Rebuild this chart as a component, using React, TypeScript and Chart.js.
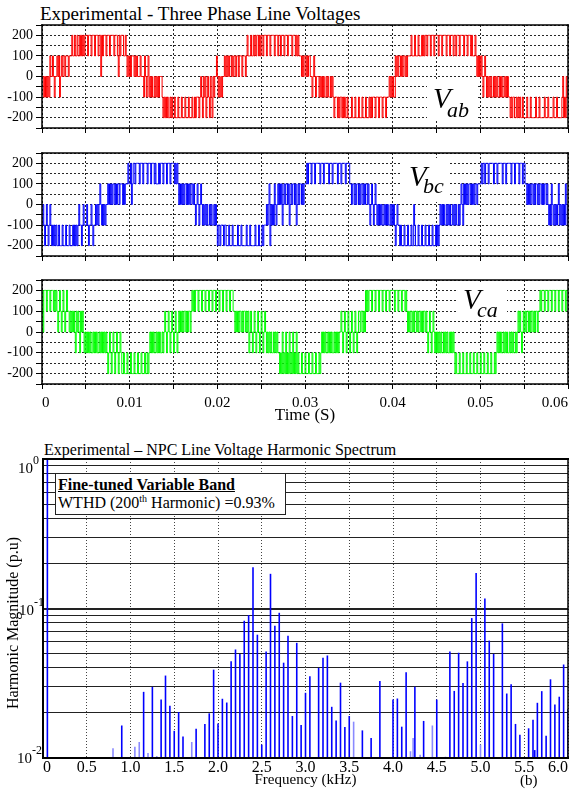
import React, { useEffect, useRef } from 'react';
import { Chart, registerables } from 'chart.js';

Chart.register(...registerables);

const SERIF = '"Liberation Serif", "Times New Roman", serif';
Chart.defaults.font.family = SERIF;
Chart.defaults.color = '#000';

// ---------------------------------------------------------------------------
// Line-voltage records. Each string covers 5 ms; every character is the
// converter level held for one sample: 0=-200, 1=-100, 2=0, 3=100, 4=200 V.
// ---------------------------------------------------------------------------
const BLOCK_SECONDS = 0.005;
const LEVEL_VOLTS = [-200, -100, 0, 100, 200];

const VAB_LEVELS = [
  '22121212132232122323123233233323334334334334343434',
  '44344434443444344243444344434444344432434443343232',
  '32333232322232221321231212112121212221010101001010',
  '01000100010001000100010010111012102120121021021223',
  '21212122323232332323323323332333234333433434344343',
  '44344434443444434443443444344434444344434343332323',
  '32323322123212221212121121211212101110101101010010',
  '00010001000100010001000101011101110111011101112121',
  '21132323323233232333343334333433343434434443444344',
  '44344434444344434443443444344443444344434333432323',
  '23212321212121121212112121121212110101100101010010',
  '00010001000001000100000100010000010001000001201021',
];

const VBC_LEVELS = [
  '12101210121010101001000100010001000101010121101211',
  '12101121011212123212121223232323323233233323233343',
  '34234434444344434444344434443433343444344434443444',
  '43434323232323323232332321232123212121211212112121',
  '01101110110001000100000100010000010001000001000100',
  '01011121230212132123232312323323123233231232332323',
  '33434443444344444344434444434443444443444344443444',
  '43323323233232332323323212321232121212112121211212',
  '12101211010001000100010021000100010001000100010001',
  '01012121211212121121212112123213232323323232332333',
  '34344344434444434443444443444344444344434444344434',
  '43323232332323323233232332321213212121231212121321',
];

const VCA_LEVELS = [
  '42444344434443434323432343234332323232132321323212',
  '12121211212121121212121210121012101210121001000100',
  '01000100010001000100101212121121212112123212321232',
  '12321232323233232332343434443444344434443444344434',
  '44344434443444344433232323323233232312321232123212',
  '32123212121211212121101020102010201020102010001000',
  '10001000100010001012121211212121121212122321232123',
  '21232123212332332324343444344434443444344434443444',
  '44344434443444343232332323323233232332321232123212',
  '12121211212121121212101000100010001000100010001000',
  '10001000100010001012121211212121121212112123232123',
  '23233232332323323343444344434443444344434443444344',
];

const VOLT_TICKS = [-250, -200, -150, -100, -50, 0, 50, 100, 150, 200, 250];
const VOLT_TICK_LABELS = ['', '-200', '', '-100', '', '0', '', '100', '', '200', ''];
const TIME_TICKS = [0, 0.005, 0.01, 0.015, 0.02, 0.025, 0.03, 0.035, 0.04, 0.045, 0.05, 0.055, 0.06];
const TIME_TICK_LABELS = ['0', '', '0.01', '', '0.02', '', '0.03', '', '0.04', '', '0.05', '', '0.06'];

// ---------------------------------------------------------------------------
// Harmonic spectrum (frequency in kHz, magnitude in p.u.)
// ---------------------------------------------------------------------------
const SPEC_FREQ = [
  0.05, 0.9, 1.15, 1.25, 1.35, 1.4, 1.45, 1.5, 1.55, 1.6, 1.75, 1.85, 1.9, 1.95,
  2.0, 2.05, 2.1, 2.15, 2.2, 2.25, 2.3, 2.35, 2.4, 2.45, 2.5, 2.55, 2.6, 2.65,
  2.7, 2.75, 2.8, 2.85, 2.9, 2.95, 3.0, 3.05, 3.15, 3.2, 3.25, 3.3, 3.35, 3.4,
  3.45, 3.5, 3.65, 3.75, 3.85, 4.0, 4.05, 4.1, 4.15, 4.25, 4.35, 4.5, 4.65, 4.7,
  4.75, 4.8, 4.85, 4.9, 4.95, 5.05, 5.1, 5.15, 5.25, 5.3, 5.35, 5.4, 5.45, 5.55,
  5.6, 5.62, 5.65, 5.7, 5.75, 5.8, 5.85, 5.9, 5.95, 6.0,
];
const SPEC_MAG = [
  1.0, 0.0165, 0.0277, 0.0299, 0.0246, 0.0356, 0.0224, 0.0152, 0.0203, 0.0139, 0.0157, 0.0169, 0.0199, 0.039,
  0.017, 0.0249, 0.0235, 0.0443, 0.0532, 0.0497, 0.0828, 0.0903, 0.189, 0.0668, 0.0123, 0.0515, 0.1706, 0.0767,
  0.0936, 0.0434, 0.0658, 0.0191, 0.0589, 0.0166, 0.0273, 0.0352, 0.0401, 0.0468, 0.0485, 0.022, 0.0178, 0.0319,
  0.0161, 0.0191, 0.0153, 0.0136, 0.0327, 0.0246, 0.025, 0.0162, 0.0374, 0.03, 0.0177, 0.0246, 0.0515, 0.0281,
  0.0506, 0.0318, 0.0443, 0.0863, 0.173, 0.1165, 0.061, 0.0497, 0.0795, 0.027, 0.0311, 0.0169, 0.0143, 0.0158,
  0.018, 0.0113, 0.0234, 0.028, 0.0141, 0.0336, 0.0228, 0.0257, 0.0422, 0.0213,
];
const FAINT_FREQ = [0.8, 1.05, 1.1, 1.2, 1.3, 1.7, 3.55, 4.2, 4.23, 4.31, 4.45, 4.6, 5.0];
const FAINT_MAG = [0.0116, 0.0119, 0.0128, 0.0108, 0.0103, 0.0128, 0.0175, 0.0111, 0.0136, 0.0105, 0.0165, 0.0102, 0.0123];

const FREQ_TICKS = [0, 0.5, 1, 1.5, 2, 2.5, 3, 3.5, 4, 4.5, 5, 5.5, 6];
const FREQ_TICK_LABELS = ['0', '0.5', '1.0', '1.5', '2.0', '2.5', '3.0', '3.5', '4.0', '4.5', '5.0', '5.5', '6.0'];
const MAG_TICKS = [
  0.01, 0.02, 0.03, 0.04, 0.05, 0.06, 0.07, 0.08, 0.09,
  0.1, 0.2, 0.3, 0.4, 0.5, 0.6, 0.7, 0.8, 0.9, 1,
];
const MAG_DECADES = [0.01, 0.1, 1];

// ---------------------------------------------------------------------------

function levelsToSteps(blocks: string[]) {
  const pts: { x: number; y: number }[] = [];
  blocks.forEach((s, k) => {
    for (let j = 0; j < s.length; j++) {
      pts.push({ x: k * BLOCK_SECONDS + (j * BLOCK_SECONDS) / s.length, y: LEVEL_VOLTS[Number(s[j])] });
    }
  });
  pts.push({ x: blocks.length * BLOCK_SECONDS, y: pts[pts.length - 1].y });
  return pts;
}

// draws a closed box round the plotting area
const framePlugin = {
  id: 'frame',
  afterDraw(chart: any, _args: any, opts: any) {
    const { ctx, chartArea: a } = chart;
    const [wt, wr, wb, wl] = opts.widths || [1.5, 1.5, 1.5, 1.5];
    const seg = (w: number, x1: number, y1: number, x2: number, y2: number) => {
      ctx.lineWidth = w;
      ctx.beginPath();
      ctx.moveTo(x1, y1);
      ctx.lineTo(x2, y2);
      ctx.stroke();
    };
    ctx.save();
    ctx.strokeStyle = '#000';
    ctx.lineCap = 'square';
    seg(wt, a.left, a.top, a.right, a.top);
    seg(wr, a.right, a.top, a.right, a.bottom);
    seg(wb, a.left, a.bottom, a.right, a.bottom);
    seg(wl, a.left, a.top, a.left, a.bottom);
    ctx.restore();
  },
};

function useChart(make: () => any) {
  const ref = useRef<HTMLCanvasElement>(null);
  useEffect(() => {
    const chart = new Chart(ref.current as HTMLCanvasElement, make());
    return () => chart.destroy();
  }, []);
  return ref;
}

type WaveProps = {
  top: number;
  height: number;
  padTop: number;
  axisHeight: number;
  color: string;
  blocks: string[];
  labels?: boolean;
};

function WavePanel({ top, height, padTop, axisHeight, color, blocks, labels = false }: WaveProps) {
  const ref = useChart(() => ({
    type: 'line',
    data: {
      datasets: [
        {
          data: levelsToSteps(blocks),
          borderColor: color,
          borderWidth: 1,
          pointRadius: 0,
          stepped: true,
          fill: false,
        },
      ],
    },
    options: {
      animation: false,
      responsive: false,
      events: [],
      layout: { padding: { top: padTop, right: 5, left: 0, bottom: 0 } },
      plugins: {
        legend: { display: false },
        tooltip: { enabled: false },
        frame: { widths: [1.5, 1.5, 1.5, 1.5] },
      },
      scales: {
        x: {
          type: 'linear',
          min: 0,
          max: 0.06,
          afterBuildTicks: (s: any) => {
            s.ticks = TIME_TICKS.map((v) => ({ value: v }));
          },
          ticks: {
            display: labels,
            autoSkip: false,
            maxRotation: 0,
            align: 'inner',
            padding: 5,
            font: { size: 15 },
            callback: (_v: any, i: number) => TIME_TICK_LABELS[i],
          },
          grid: { color: 'rgba(0,0,0,0.85)', lineWidth: 1, tickLength: 5, tickColor: '#000', tickWidth: 1 },
          border: { display: false, dash: [2, 2] },
          title: { display: labels, text: 'Time (S)', font: { size: 17 }, padding: 0 },
          afterFit: (s: any) => {
            s.height = axisHeight;
            s.paddingLeft = 0;
            s.paddingRight = 0;
          },
        },
        y: {
          type: 'linear',
          min: -250,
          max: 250,
          afterBuildTicks: (s: any) => {
            s.ticks = VOLT_TICKS.map((v) => ({ value: v }));
          },
          ticks: {
            autoSkip: false,
            padding: 3,
            font: { size: 14 },
            callback: (_v: any, i: number) => VOLT_TICK_LABELS[i],
          },
          grid: { color: 'rgba(0,0,0,0.85)', lineWidth: 1, tickLength: 6, tickColor: '#000', tickWidth: 1 },
          border: { display: false, dash: [2, 2] },
          afterFit: (s: any) => {
            s.width = 42;
            s.paddingTop = 0;
            s.paddingBottom = 0;
          },
        },
      },
    },
    plugins: [framePlugin],
  }));
  return (
    <canvas
      ref={ref}
      width={573}
      height={height}
      style={{ position: 'absolute', left: 0, top, width: 573, height }}
    />
  );
}

function SpectrumPanel() {
  const ref = useChart(() => ({
    type: 'bar',
    data: {
      datasets: [
        {
          data: FAINT_FREQ.map((f, i) => ({ x: f, y: FAINT_MAG[i] })),
          backgroundColor: '#8a8aff',
          barThickness: 1.6,
          maxBarThickness: 1.6,
          inflateAmount: 0,
          grouped: false,
        },
        {
          data: SPEC_FREQ.map((f, i) => ({ x: f, y: SPEC_MAG[i] })),
          backgroundColor: '#0000ff',
          barThickness: 1.6,
          maxBarThickness: 1.6,
          inflateAmount: 0,
          grouped: false,
        },
      ],
    },
    options: {
      animation: false,
      responsive: false,
      events: [],
      layout: { padding: { top: 29, right: 5, left: 0, bottom: 0 } },
      plugins: {
        legend: { display: false },
        tooltip: { enabled: false },
        frame: { widths: [2, 1.5, 2, 2] },
      },
      scales: {
        x: {
          type: 'linear',
          min: 0,
          max: 6,
          offset: false,
          afterBuildTicks: (s: any) => {
            s.ticks = FREQ_TICKS.map((v) => ({ value: v }));
          },
          ticks: {
            autoSkip: false,
            maxRotation: 0,
            align: 'inner',
            padding: 0,
            font: { size: 16 },
            callback: (_v: any, i: number) => FREQ_TICK_LABELS[i],
          },
          grid: { offset: false, color: '#444', lineWidth: 1, drawTicks: false },
          border: { display: false, dash: [1, 2] },
          title: { display: true, text: 'Frequency (kHz)', font: { size: 15 }, padding: 0 },
          afterFit: (s: any) => {
            s.height = 31;
            s.paddingLeft = 0;
            s.paddingRight = 0;
          },
        },
        y: {
          type: 'logarithmic',
          min: 0.01,
          max: 1,
          afterBuildTicks: (s: any) => {
            s.ticks = MAG_TICKS.map((v) => ({ value: v }));
          },
          ticks: { autoSkip: false, callback: () => '' },
          grid: {
            color: '#222',
            drawTicks: false,
            lineWidth: (c: any) => (c.tick && MAG_DECADES.includes(c.tick.value) ? 2 : 1),
          },
          border: { display: false },
          afterFit: (s: any) => {
            s.width = 43;
            s.paddingTop = 0;
            s.paddingBottom = 0;
          },
        },
      },
    },
    plugins: [framePlugin],
  }));
  return (
    <canvas
      ref={ref}
      width={573}
      height={359}
      style={{ position: 'absolute', left: 0, top: 430, width: 573, height: 359 }}
    />
  );
}

// text placed by its baseline
function Txt({ x, base, size, children, style }: any) {
  return (
    <div
      style={{
        position: 'absolute',
        left: x,
        top: base - 0.8375 * size,
        fontSize: size,
        lineHeight: `${size}px`,
        whiteSpace: 'nowrap',
        fontFamily: SERIF,
        color: '#000',
        ...style,
      }}
    >
      {children}
    </div>
  );
}

function PhaseTag({ box, vx, vBase, sub, subBase }: any) {
  const [l, t, w, h] = box;
  return (
    <>
      <div style={{ position: 'absolute', left: l, top: t, width: w, height: h, background: '#fff' }} />
      <Txt x={vx} base={vBase} size={29} style={{ fontStyle: 'italic' }}>V</Txt>
      <Txt x={vx + 14} base={subBase} size={22} style={{ fontStyle: 'italic' }}>{sub}</Txt>
    </>
  );
}

const supStyle = (size: number, lift: number) => ({
  fontSize: size,
  lineHeight: 0,
  verticalAlign: `${lift}px`,
});

export default function App() {
  return (
    <div
      style={{
        position: 'absolute',
        left: 0,
        top: 0,
        width: 573,
        height: 789,
        overflow: 'hidden',
        background: '#fff',
        fontFamily: SERIF,
      }}
    >
      <Txt x={40} base={20} size={19}>Experimental - Three Phase Line Voltages</Txt>

      <WavePanel top={0} height={140} padTop={25} axisHeight={12} color="#ff0000" blocks={VAB_LEVELS} />
      <WavePanel top={130} height={140} padTop={23} axisHeight={14} color="#0000ff" blocks={VBC_LEVELS} />
      <WavePanel top={262} height={164} padTop={18} axisHeight={42} color="#00ff00" blocks={VCA_LEVELS} labels />

      <PhaseTag box={[427, 80, 51, 41]} vx={433} vBase={108} sub="ab" subBase={117} />
      <PhaseTag box={[400, 158, 50, 44]} vx={409} vBase={186} sub="bc" subBase={193} />
      <PhaseTag box={[457, 283, 50, 37]} vx={463} vBase={309} sub="ca" subBase={317} />

      <Txt x={44} base={455} size={16}>Experimental – NPC Line Voltage Harmonic Spectrum</Txt>

      <SpectrumPanel />

      <Txt x={18} base={473} size={15}>10<span style={supStyle(12, 9)}>0</span></Txt>
      <Txt x={19} base={615} size={15}>10<span style={supStyle(12, 9)}>-1</span></Txt>
      <Txt x={17} base={763} size={15}>10<span style={supStyle(12, 9)}>-2</span></Txt>

      <div
        style={{
          position: 'absolute',
          left: 13,
          top: 623,
          transform: 'translate(-50%, -50%) rotate(-90deg)',
          fontSize: 16,
          whiteSpace: 'nowrap',
          fontFamily: SERIF,
        }}
      >
        Harmonic Magnitude (p.u)
      </div>

      <div
        style={{
          position: 'absolute',
          left: 55,
          top: 473,
          width: 231,
          height: 42,
          boxSizing: 'border-box',
          border: '1px solid #222',
          background: '#fff',
        }}
      />
      <Txt x={58} base={490} size={16} style={{ fontWeight: 'bold', textDecoration: 'underline' }}>
        Fine-tuned Variable Band
      </Txt>
      <Txt x={58} base={508} size={16}>
        WTHD (200<span style={supStyle(10, 6)}>th</span> Harmonic) =0.93%
      </Txt>

      <Txt x={520} base={786} size={15}>(b)</Txt>
    </div>
  );
}
